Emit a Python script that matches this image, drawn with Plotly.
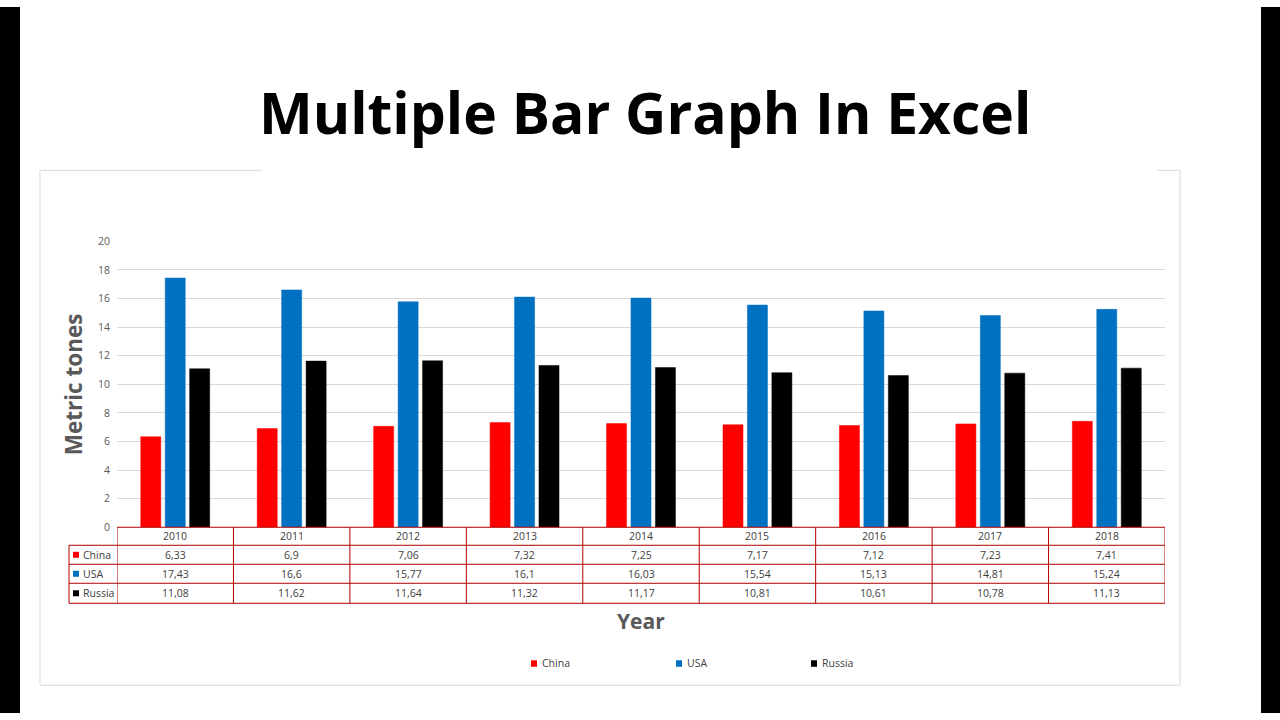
import plotly.graph_objects as go

# chart data
years = ["2010", "2011", "2012", "2013", "2014", "2015", "2016", "2017", "2018"]
china = [6.33, 6.9, 7.06, 7.32, 7.25, 7.17, 7.12, 7.23, 7.41]
usa = [17.43, 16.6, 15.77, 16.1, 16.03, 15.54, 15.13, 14.81, 15.24]
russia = [11.08, 11.62, 11.64, 11.32, 11.17, 10.81, 10.61, 10.78, 11.13]

series = [("China", china, "#FF0000"), ("USA", usa, "#0070C0"), ("Russia", russia, "#000000")]
legend_x = [531, 676, 811]

W, H = 1280, 720
GRAY = "#595959"
TABLE_RED = "#B00000"


def px(x):
    return x / W


def py(y):
    # the snapshot squeezes the page a little vertically; undo that here
    return 1 - ((y - 6.7) / 0.9806) / H


fig = go.Figure()
for name, vals, col in series:
    fig.add_trace(go.Bar(x=years, y=vals, name=name,
                         marker=dict(color=col, line=dict(color=col, width=0.5))))

shapes = []
annotations = []

# black side bands
shapes.append(dict(type="rect", xref="paper", yref="paper", x0=0, x1=px(20), y0=0, y1=1,
                   fillcolor="black", line_width=0, layer="above"))
shapes.append(dict(type="rect", xref="paper", yref="paper", x0=px(1261), x1=1, y0=0, y1=1,
                   fillcolor="black", line_width=0, layer="above"))

# chart area frame (top edge broken by the title)
frame = dict(type="line", xref="paper", yref="paper", line=dict(color="#D9D9D9", width=1))
for x0, y0, x1, y1 in [(40, 170, 40, 685), (1180, 170, 1180, 685), (40, 685, 1180, 685),
                       (40, 170, 262, 170), (1157, 170, 1180, 170)]:
    shapes.append(dict(frame, x0=px(x0), y0=py(y0), x1=px(x1), y1=py(y1)))

# data table
row_edges = [527, 545, 564, 583, 603]
tline = dict(type="line", line=dict(color=TABLE_RED, width=1))
shapes.append(dict(tline, xref="x", yref="paper", x0=-0.5, x1=len(years) - 0.5,
                   y0=py(row_edges[0]), y1=py(row_edges[0])))
for r in row_edges[1:]:
    shapes.append(dict(tline, xref="paper", yref="paper", x0=px(69), x1=px(1165),
                       y0=py(r), y1=py(r)))
for i in range(len(years) + 1):
    shapes.append(dict(tline, xref="x", yref="paper", x0=i - 0.5, x1=i - 0.5,
                       y0=py(row_edges[0]), y1=py(row_edges[-1])))
shapes.append(dict(tline, xref="paper", yref="paper", x0=px(69), x1=px(69),
                   y0=py(row_edges[1]), y1=py(row_edges[-1])))

cell_font = dict(family="Open Sans, Arial", size=10.5, color="#404040")
for i, yr in enumerate(years):
    annotations.append(dict(x=i, xref="x", yref="paper",
                            y=py((row_edges[0] + row_edges[1]) / 2), text=yr,
                            xanchor="center", yanchor="middle",
                            showarrow=False, font=cell_font))
for r, (name, vals, col) in enumerate(series):
    yc = (row_edges[r + 1] + row_edges[r + 2]) / 2
    for i, v in enumerate(vals):
        annotations.append(dict(x=i, xref="x", yref="paper", y=py(yc),
                                text=f"{v:g}".replace(".", ","), showarrow=False,
                                xanchor="center", yanchor="middle", font=cell_font))
    shapes.append(dict(type="rect", xref="paper", yref="paper", x0=px(73), x1=px(79),
                       y0=py(yc + 3), y1=py(yc - 3), fillcolor=col, line_width=0))
    annotations.append(dict(x=px(81), xref="paper", yref="paper", y=py(yc), text=name,
                            xanchor="left", yanchor="middle", showarrow=False,
                            font=cell_font))

# legend drawn by hand (small Excel style squares)
for (name, vals, col), lx in zip(series, legend_x):
    shapes.append(dict(type="rect", xref="paper", yref="paper", x0=px(lx), x1=px(lx + 6),
                       y0=py(666.5), y1=py(660), fillcolor=col, line_width=0))
    annotations.append(dict(x=px(lx + 9), xref="paper", yref="paper", y=py(663), text=name,
                            xanchor="left", yanchor="middle", showarrow=False,
                            font=cell_font))

# title
annotations.append(dict(x=px(645), y=py(112), xref="paper", yref="paper",
                        text="<b>Multiple Bar Graph In Excel</b>", showarrow=False,
                        xanchor="center", yanchor="middle",
                        font=dict(family="Open Sans", size=57, color="black")))
# axis titles
annotations.append(dict(x=px(73), y=py(384), xref="paper", yref="paper",
                        text="<b>Metric tones</b>", textangle=-90, showarrow=False,
                        xanchor="center", yanchor="middle",
                        font=dict(family="Open Sans", size=22.5, color=GRAY)))
annotations.append(dict(x=px(641), y=py(621), xref="paper", yref="paper",
                        text="<b>Year</b>", showarrow=False,
                        xanchor="center", yanchor="middle",
                        font=dict(family="Open Sans", size=21, color=GRAY)))

fig.update_layout(
    width=W, height=H,
    margin=dict(l=0, r=0, t=0, b=0),
    paper_bgcolor="white", plot_bgcolor="white",
    barmode="group", bargap=0.37, bargroupgap=0.18,
    xaxis=dict(type="category", domain=[px(117), px(1165)], range=[-0.5, len(years) - 0.5],
               showticklabels=False, showgrid=False, zeroline=False),
    yaxis=dict(domain=[py(527), py(241)], range=[0, 20], dtick=2,
               showgrid=True, gridcolor="#D9D9D9", gridwidth=1, zeroline=False,
               tickfont=dict(family="Open Sans, Arial", size=10.5, color=GRAY),
               ticks="", ticklabelstandoff=6),
    showlegend=False,
    shapes=shapes,
    annotations=annotations,
)

fig.write_html("out.html", config={"displayModeBar": False},
               post_script="document.body.style.margin='0';document.body.style.overflow='hidden';")
